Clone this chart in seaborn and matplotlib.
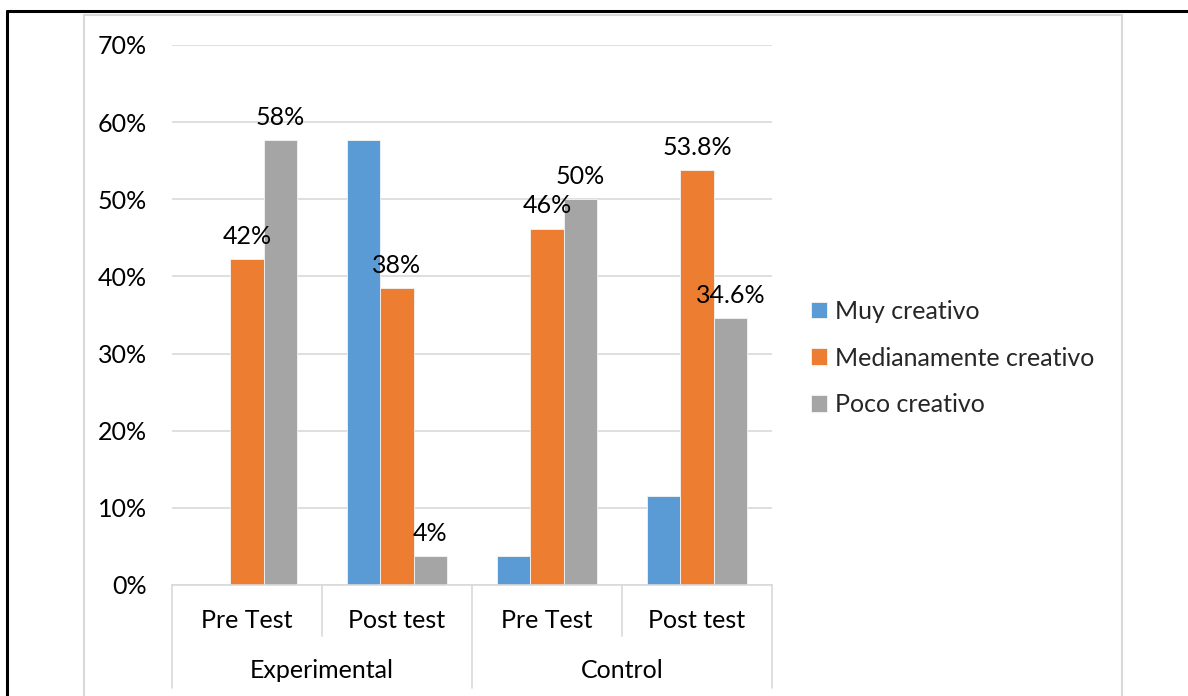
import matplotlib
matplotlib.use("Agg")
import matplotlib.pyplot as plt
from matplotlib.lines import Line2D
from matplotlib.patches import Rectangle
import seaborn as sns
import pandas as pd

# Chart data
groups = ["Experimental", "Experimental", "Control", "Control"]
tests = ["Pre Test", "Post test", "Pre Test", "Post test"]
levels = ["Muy creativo", "Medianamente creativo", "Poco creativo"]
muy_creativo = [0.0, 57.7, 3.8, 11.5]
medianamente_creativo = [42.3, 38.5, 46.2, 53.8]
poco_creativo = [57.7, 3.8, 50.0, 34.6]
value_labels = {
    "Muy creativo": ["", "", "", ""],
    "Medianamente creativo": ["42%", "38%", "46%", "53.8%"],
    "Poco creativo": ["58%", "4%", "50%", "34.6%"],
}
y_ticks = [0, 10, 20, 30, 40, 50, 60, 70]
palette = ["#5B9BD5", "#ED7D31", "#A5A5A5"]

keys = [f"{g}|{t}" for g, t in zip(groups, tests)]
series = {"Muy creativo": muy_creativo,
          "Medianamente creativo": medianamente_creativo,
          "Poco creativo": poco_creativo}
rows = []
for lvl in levels:
    for k, v in zip(keys, series[lvl]):
        rows.append({"key": k, "nivel": lvl, "pct": v})
df = pd.DataFrame(rows)

sns.set_theme(style="white")
plt.rcParams["font.family"] = ["Lato", "DejaVu Sans"]
FS = 18

W, H = 1188, 696
fig = plt.figure(figsize=(W / 100, H / 100), dpi=100)
ax = fig.add_axes([172 / W, (H - 585) / H, 600 / W, 540 / H])

sns.barplot(data=df, x="key", y="pct", hue="nivel", order=keys,
            hue_order=levels, palette=palette, width=0.667, gap=0,
            saturation=1, ax=ax, errorbar=None, linewidth=0.6,
            edgecolor="#F4F4F4")

for cont, lvl in zip(ax.containers, levels):
    ax.bar_label(cont, labels=value_labels[lvl], padding=8, fontsize=FS,
                 color="#000000")

ax.set_ylim(0, 70)
ax.set_xlim(-0.5, 3.5)
ax.set_yticks(y_ticks)
ax.set_yticklabels([f"{t}%" for t in y_ticks], fontsize=FS, color="#000000")
ax.tick_params(axis="y", length=0, pad=18)
ax.set_xticks([])
ax.set_xlabel("")
ax.set_ylabel("")
ax.grid(axis="y", color="#D9D9D9", linewidth=1.2)
ax.set_axisbelow(True)
for s in ["top", "right", "left"]:
    ax.spines[s].set_visible(False)
ax.spines["bottom"].set_color("#D9D9D9")
ax.spines["bottom"].set_linewidth(1.2)

# Two-level category axis
tr = ax.get_xaxis_transform()
axis_h = 540.0
y_sub = -51 / axis_h
y_grp = -103 / axis_h
for i, t in enumerate(tests):
    ax.text(i, -35 / axis_h, t, transform=tr, ha="center", va="center",
            fontsize=FS, color="#000000")
for x0 in [-0.5, 0.5, 1.5, 2.5, 3.5]:
    bottom = y_grp if x0 in (-0.5, 1.5, 3.5) else y_sub
    ax.add_line(Line2D([x0, x0], [0, bottom], transform=tr, clip_on=False,
                       color="#D9D9D9", linewidth=1.2))
group_names = []
for g in groups:
    if g not in group_names:
        group_names.append(g)
for j, g in enumerate(group_names):
    ax.text(2 * j + 0.5, -86 / axis_h, g, transform=tr, ha="center",
            va="center", fontsize=FS, color="#000000")

# Legend
handles, labels = ax.get_legend_handles_labels()
ax.get_legend().remove()
fig.legend(handles, labels, loc="center left",
           bbox_to_anchor=(811 / W, (H - 358) / H), frameon=False,
           fontsize=FS, handlelength=0.65, handleheight=0.65,
           handletextpad=0.3, labelspacing=0.95, borderpad=0,
           borderaxespad=0)

# Chart frame and outer cell border
fig.add_artist(Rectangle((84 / W, -0.05), (1122 - 84) / W, (H - 15) / H + 0.05,
                         transform=fig.transFigure, fill=False,
                         edgecolor="#D9D9D9", linewidth=1.5))
fig.add_artist(Line2D([7 / W, 1.0], [(H - 11) / H, (H - 11) / H],
                      transform=fig.transFigure, color="black", linewidth=2.2))
fig.add_artist(Line2D([7 / W, 7 / W], [0, (H - 11) / H],
                      transform=fig.transFigure, color="black", linewidth=2.2))

fig.savefig("out.png", dpi=100)
